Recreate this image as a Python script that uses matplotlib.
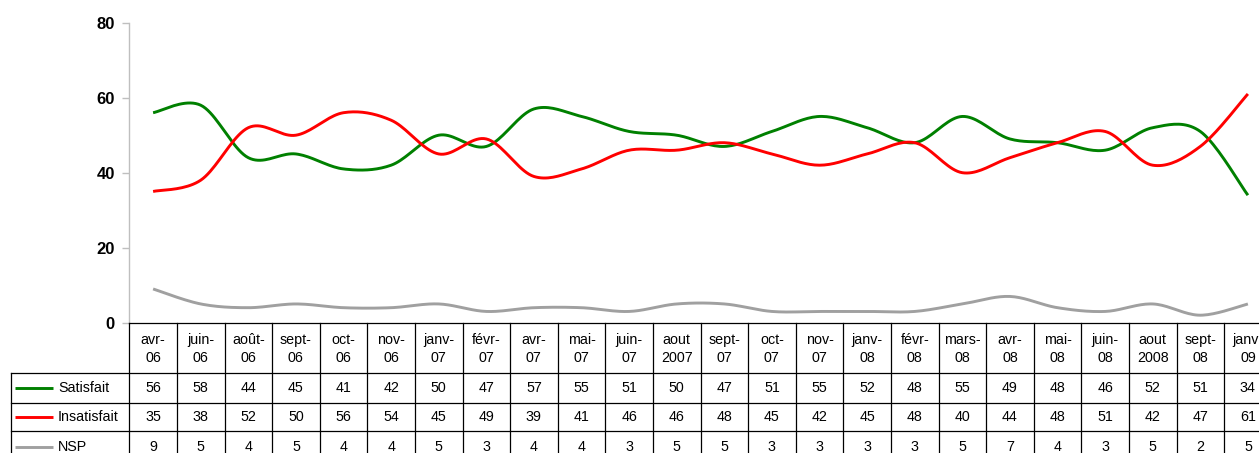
import matplotlib
matplotlib.use('Agg')
import matplotlib.pyplot as plt
import numpy as np

# ---- data ----
months = ["avr-\n06", "juin-\n06", "août-\n06", "sept-\n06", "oct-\n06", "nov-\n06",
          "janv-\n07", "févr-\n07", "avr-\n07", "mai-\n07", "juin-\n07", "aout\n2007",
          "sept-\n07", "oct-\n07", "nov-\n07", "janv-\n08", "févr-\n08", "mars-\n08",
          "avr-\n08", "mai-\n08", "juin-\n08", "aout\n2008", "sept-\n08", "janv-\n09"]
satisfait = [56, 58, 44, 45, 41, 42, 50, 47, 57, 55, 51, 50, 47, 51, 55, 52, 48, 55, 49, 48, 46, 52, 51, 34]
insatisfait = [35, 38, 52, 50, 56, 54, 45, 49, 39, 41, 46, 46, 48, 45, 42, 45, 48, 40, 44, 48, 51, 42, 47, 61]
nsp = [9, 5, 4, 5, 4, 4, 5, 3, 4, 4, 3, 5, 5, 3, 3, 3, 3, 5, 7, 4, 3, 5, 2, 5]
series_names = ["Satisfait", "Insatisfait", "NSP"]
series_colors = ["#008000", "#ff0000", "#a0a0a0"]
yticks = [0, 20, 40, 60, 80]

plt.rcParams['font.family'] = ['Liberation Sans', 'DejaVu Sans']


def smooth(xs, ys, steps=20):
    xs = np.asarray(xs, float)
    ys = np.asarray(ys, float)
    P = np.column_stack([xs, ys])
    n = len(P)
    out = [P[0]]
    t = np.linspace(0, 1, steps + 1)[1:]
    for i in range(n - 1):
        pm = P[i - 1] if i > 0 else P[i]
        p0 = P[i]
        p1 = P[i + 1]
        p2 = P[i + 2] if i + 2 < n else P[i + 1]
        c1 = p0 + (p1 - pm) / 6.0
        c2 = p1 - (p2 - p0) / 6.0
        for tt in t:
            b = ((1 - tt) ** 3) * p0 + 3 * ((1 - tt) ** 2) * tt * c1 + 3 * (1 - tt) * tt ** 2 * c2 + tt ** 3 * p1
            out.append(b)
    out = np.array(out)
    return out[:, 0], out[:, 1]


W, H = 1259, 453
fig = plt.figure(figsize=(W / 100, H / 100), dpi=100)
x0 = 129.3
cw = 47.6
n = len(months)
y0 = 322.7
y80 = 22.7
bottom_px = 462.0

ax = fig.add_axes([x0 / W, 1 - y0 / H, n * cw / W, (y0 - y80) / H])
ax.set_xlim(-0.5, n - 0.5)
ax.set_ylim(0, 80)
xs = np.arange(n)
for vals, col in zip([satisfait, insatisfait, nsp], series_colors):
    sx, sy = smooth(xs, vals)
    ax.plot(sx, sy, color=col, lw=2.1, solid_capstyle='butt', clip_on=False)
for s in ['top', 'right', 'bottom']:
    ax.spines[s].set_visible(False)
ax.spines['left'].set_color('#bfbfbf')
ax.spines['left'].set_linewidth(1.0)
ax.set_xticks([])
ax.set_yticks(yticks)
ax.set_yticklabels([str(v) for v in yticks], fontsize=12, fontweight='bold')
ax.tick_params(axis='y', direction='out', length=5.3, width=1.0, color='#bfbfbf', pad=5.0)

# ---- data table ----
left_px = 11.0
tax = fig.add_axes([left_px / W, 1 - bottom_px / H, (x0 + n * cw - left_px) / W, (bottom_px - y0) / H])
xl = -0.5 - (x0 - left_px) / cw
tax.set_xlim(xl, n - 0.5)
tax.set_ylim(bottom_px - y0, 0)
tax.axis('off')


def px2x(px):
    return -0.5 + (px - x0) / cw


rows = [0, 50.3, 80.0, 108.3, bottom_px - y0]
lc = 'black'
lw = 0.9
tax.plot([-0.5, n - 0.5], [rows[0], rows[0]], color=lc, lw=lw, clip_on=False)
for r in rows[1:4]:
    tax.plot([xl, n - 0.5], [r, r], color=lc, lw=lw, clip_on=False)
for i in range(n + 1):
    tax.plot([i - 0.5, i - 0.5], [rows[0], rows[4]], color=lc, lw=lw, clip_on=False)
tax.plot([xl + 0.01, xl + 0.01], [rows[1], rows[4]], color=lc, lw=lw, clip_on=False)

hc = (rows[0] + rows[1]) / 2
for i, m in enumerate(months):
    tax.text(i, hc + 1, m, ha='center', va='center', fontsize=10.3, linespacing=1.4)

for k, (vals, name, col) in enumerate(zip([satisfait, insatisfait, nsp], series_names, series_colors)):
    rc = (rows[k + 1] + rows[k + 2]) / 2
    for i, v in enumerate(vals):
        tax.text(i, rc, str(v), ha='center', va='center', fontsize=10.3)
    tax.plot([px2x(15), px2x(53)], [rc, rc], color=col, lw=2.1, solid_capstyle='butt')
    tax.text(px2x(58), rc, name, ha='left', va='center', fontsize=10.3)

fig.savefig('out.png', dpi=100)
